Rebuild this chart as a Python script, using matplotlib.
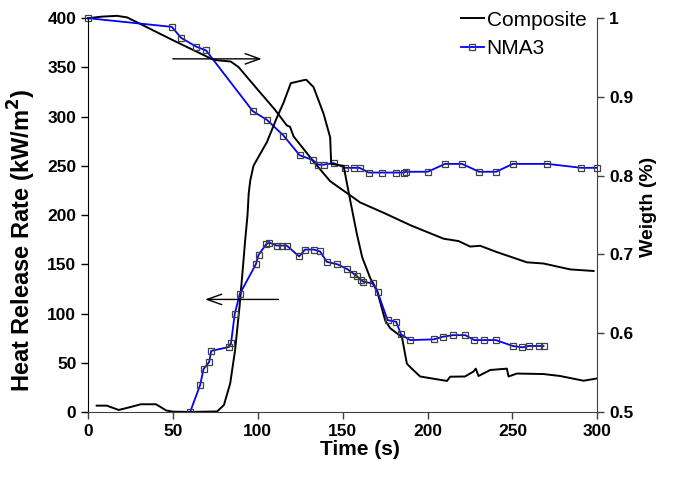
import numpy as np
import matplotlib
matplotlib.use("Agg")
from matplotlib import pyplot as plt

plt.rcParams['font.family'] = ['Liberation Sans', 'DejaVu Sans']

# Composite - heat release rate (kW/m2)
comp_hrr_t = [5, 11, 18, 25, 31, 40, 46, 50, 60, 76, 80, 83.7, 86.6, 89.2, 91.2, 92.5,
              93.9, 94.6, 95.5, 97.4, 100, 105.3, 111.2, 115.1, 119.4, 126.9, 128.5,
              132.8, 138.7, 142.6, 143.2, 150.5, 154.4, 158.3, 161.5, 166.2, 170.1,
              175, 178, 184.9, 187.8, 190.7, 195.6, 211.4, 213.3, 222, 227, 228.4,
              230, 236.9, 246.7, 247.7, 252.6, 268.3, 278.1, 291.9, 299.7]
comp_hrr = [6.4, 6.4, 2, 5, 7.8, 7.8, 1.5, 0.3, 0, 0.5, 7, 29, 63, 107, 147, 174,
            200, 222, 235, 250, 258, 274, 299, 314, 334, 337, 337.5,
            330, 303, 279, 252, 250, 215, 181, 157, 136, 124,
            93, 85, 76, 49, 44, 36, 31.5, 35.8, 36, 41, 44,
            36.5, 42.6, 44, 36, 39, 38.5, 36.5, 31.7, 34]

# Composite - weight
comp_w_t = [0, 8, 17, 23, 50, 74, 84, 88.6, 100, 110, 117, 119, 121, 132.8, 142.6,
            160.3, 175, 190, 209.4, 218.2, 225.1, 231, 240.8, 258.5, 268.3, 284, 297.8]
comp_w = [1.0, 1.002, 1.003, 1.001, 0.972, 0.947, 0.945, 0.938, 0.909, 0.884, 0.864,
          0.862, 0.850, 0.818, 0.793, 0.766, 0.752, 0.737, 0.720, 0.717, 0.710,
          0.711, 0.703, 0.690, 0.6885, 0.681, 0.679]

# NMA3 - heat release rate
nma_hrr_t = [60.1, 66, 68, 71.3, 72.5, 83, 84.2, 86.4, 89.4, 98.8, 100.4, 104.9, 106.8,
             111.2, 114.1, 117, 124.3, 127.8, 132.8, 136.7, 140.6, 146.9, 152.8, 156.3,
             158.3, 160.7, 161.9, 167.6, 170.5, 176.4, 181.5, 184.3, 189.7, 203.5,
             209, 214.9, 222.2, 227.5, 233.5, 240.2, 250.2, 255.9, 259.5, 265.4, 268.3]
nma_hrr = [0, 27.4, 43.6, 50.7, 62, 66, 70, 100, 120, 150, 159.6, 170.4, 172,
           169, 169, 169, 158, 165, 165, 163, 152.5, 150, 145, 140.6,
           138, 134, 132.5, 130.5, 122, 93.3, 91.6, 78.8, 73, 73.7,
           76.4, 78, 78, 73, 73, 73, 67, 65.6, 67, 67, 67]

# NMA3 - weight
nma_w_t = [0, 49.3, 54.8, 63.6, 69.5, 97, 105.3, 115.1, 124.6, 132.2, 135.7, 138.7,
           144.6, 151.4, 156.7, 159.9, 165.2, 173.4, 181.5, 186.2, 187.4, 200.1,
           210.3, 220.2, 230.4, 240.4, 250.2, 270.6, 290.5, 299.7]
nma_w = [1.0, 0.989, 0.975, 0.964, 0.959, 0.882, 0.871, 0.851, 0.826, 0.820, 0.814,
         0.814, 0.816, 0.810, 0.810, 0.810, 0.804, 0.804, 0.804, 0.804, 0.805,
         0.805, 0.815, 0.815, 0.805, 0.805, 0.815, 0.815, 0.810, 0.810]

xticks = [0, 50, 100, 150, 200, 250, 300]
yticks = [0, 50, 100, 150, 200, 250, 300, 350, 400]
wticks = [0.5, 0.6, 0.7, 0.8, 0.9, 1.0]
wtick_labels = ['0.5', '0.6', '0.7', '0.8', '0.9', '1']

fig, ax = plt.subplots(figsize=(6.78, 4.79), dpi=100)
fig.subplots_adjust(left=0.130, right=0.881, top=0.962, bottom=0.140)
ax2 = ax.twinx()

mk = dict(marker='s', markersize=5, markerfacecolor='none',
          markeredgecolor='#404040', markeredgewidth=0.9)

l1, = ax.plot(comp_hrr_t, comp_hrr, color='black', lw=1.4, label='Composite')
l2, = ax.plot(nma_hrr_t, nma_hrr, color='#0000ff', lw=1.3, label='NMA3', **mk)
ax2.plot(comp_w_t, comp_w, color='black', lw=1.4, clip_on=False)
ax2.plot(nma_w_t, nma_w, color='#0000ff', lw=1.3, clip_on=False, **mk)

ax.set_xlim(0, 300)
ax.set_ylim(0, 400)
ax2.set_ylim(0.5, 1.0)
ax.set_xticks(xticks)
ax.set_yticks(yticks)
ax2.set_yticks(wticks)
ax2.set_yticklabels(wtick_labels)

for a in (ax, ax2):
    a.spines['top'].set_visible(False)
    a.tick_params(labelsize=12.5, width=1, length=5, direction='out')
    for lab in a.get_xticklabels() + a.get_yticklabels():
        lab.set_fontweight('bold')
ax.spines['right'].set_visible(False)
ax2.spines['left'].set_visible(False)
ax2.spines['bottom'].set_visible(False)
ax2.spines['right'].set_color('#404040')
ax.spines['bottom'].set_color('#404040')
ax.tick_params(axis='x', colors='#404040', labelcolor='black')
ax2.tick_params(axis='y', colors='#404040', labelcolor='black')

ax.set_xlabel('Time (s)', fontsize=15, fontweight='bold')
ax.xaxis.set_label_coords(0.534, -0.071)
ax.set_ylabel('Heat Release Rate (kW/m$^\\mathbf{2}$)', fontsize=17, fontweight='bold')
ax.yaxis.set_label_coords(-0.098, 0.437)
ax2.set_ylabel('Weigth (%)', fontsize=14, fontweight='bold', rotation=90)
ax2.yaxis.set_label_coords(1.084, 0.52)

arrow = dict(arrowstyle='->,head_length=0.7,head_width=0.25', color='black', lw=1,
             mutation_scale=15, shrinkA=0, shrinkB=0)
ax.annotate('', xy=(102.3, 358.7), xytext=(49.9, 358.7), arrowprops=arrow)
ax.annotate('', xy=(68.9, 114.3), xytext=(112.1, 114.3), arrowprops=arrow)

leg = ax.legend(handles=[l1, l2], loc='upper right', bbox_to_anchor=(0.995, 1.04),
                frameon=False, fontsize=15, handlelength=1.1, handletextpad=0.15,
                labelspacing=0.45, borderaxespad=0)
ax.set_zorder(ax2.get_zorder() + 1)
ax.patch.set_visible(False)

fig.savefig('out.png', dpi=100)
